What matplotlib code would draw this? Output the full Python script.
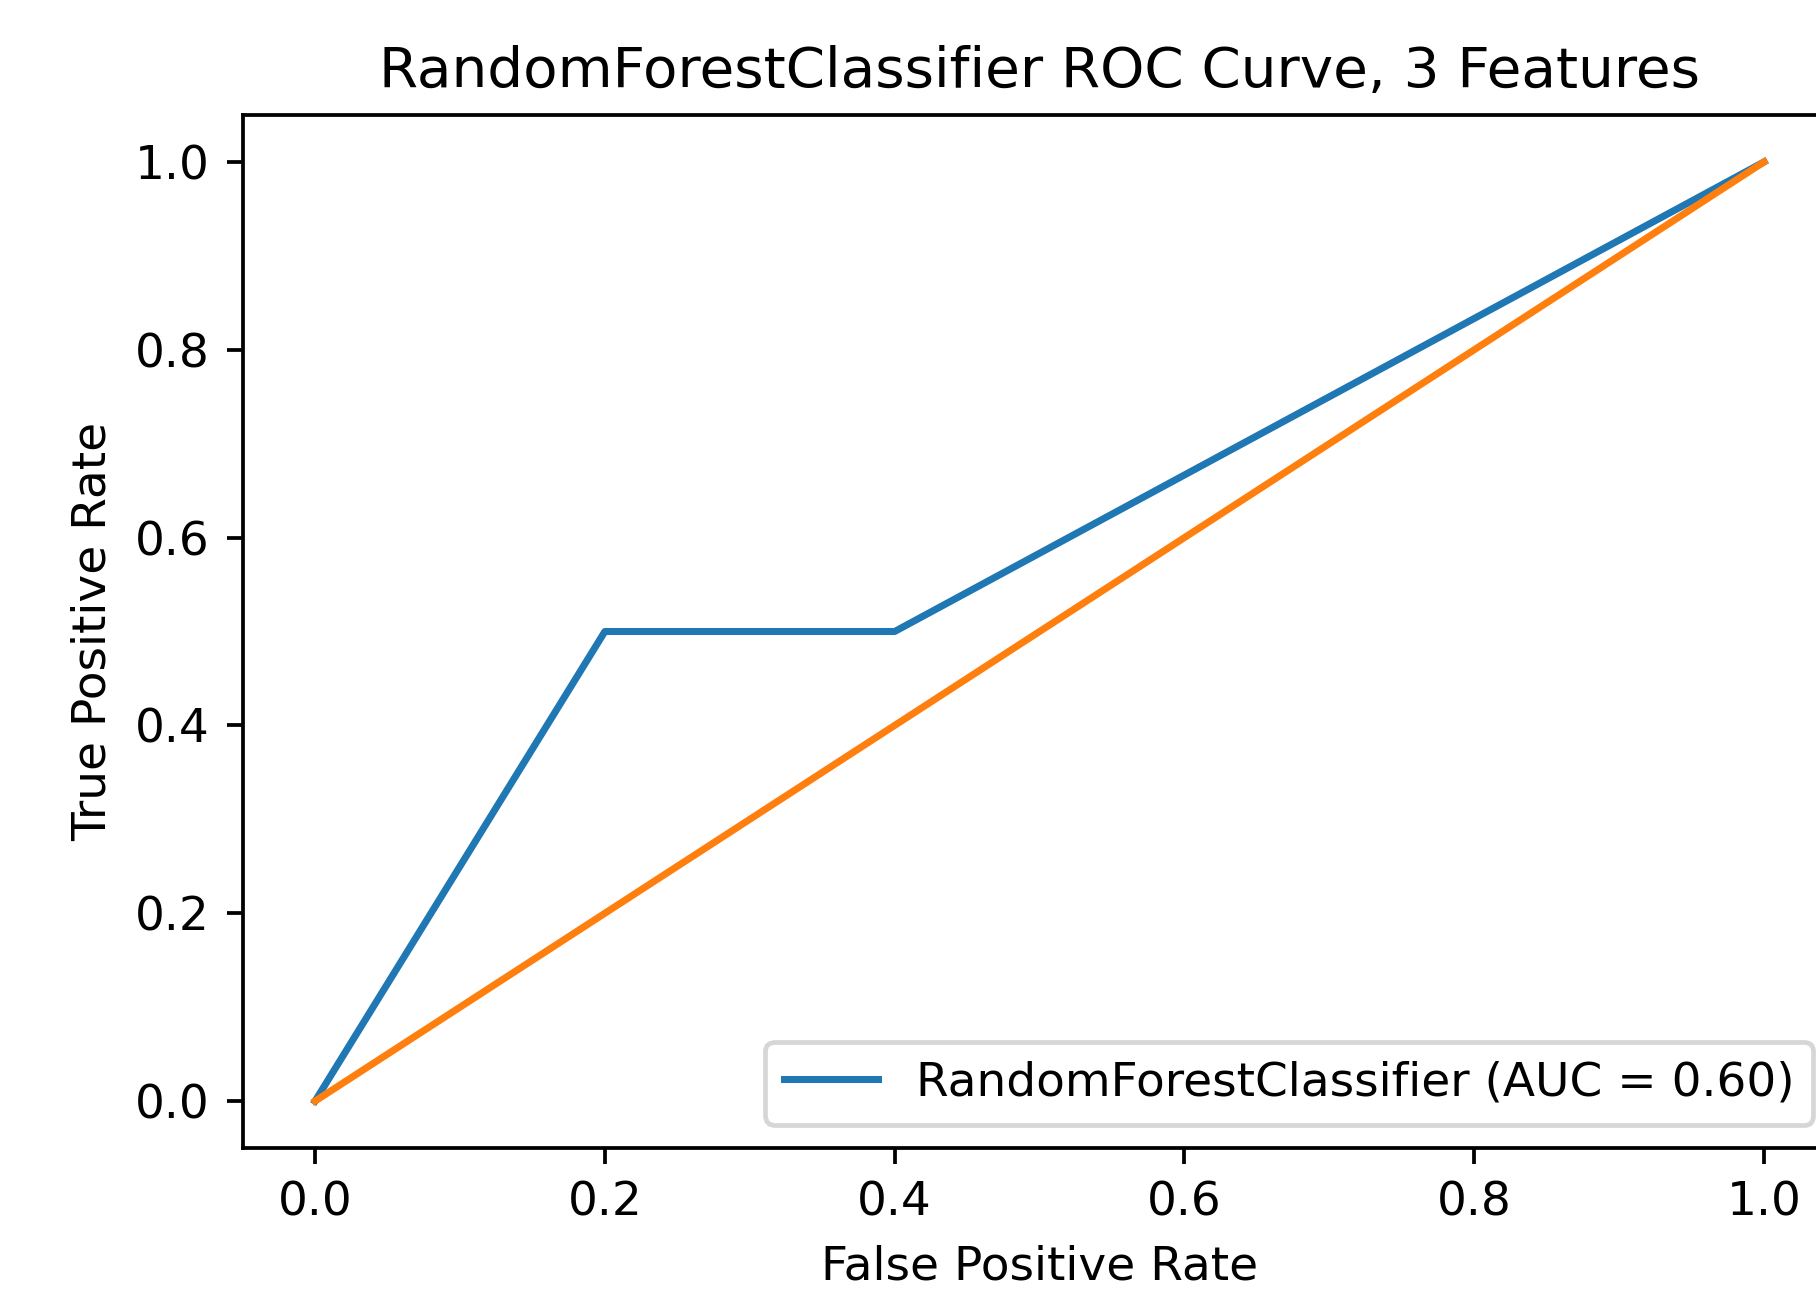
import numpy as np
import matplotlib
matplotlib.use("Agg")
import matplotlib.pyplot as plt

# ROC points
fpr = [0.0, 0.2, 0.4, 1.0]
tpr = [0.0, 0.5, 0.5, 1.0]
chance = [0.0, 1.0]
model_name = "RandomForestClassifier"
auc = np.trapezoid(tpr, fpr)

# original was a small notebook image blown up, so scale everything via dpi
dpi = 338
fig = plt.figure(figsize=(1816 / dpi, 1293 / dpi), dpi=dpi)
ax = fig.add_axes([0.1336, 0.1121, 0.8777, 0.799])

ax.plot(fpr, tpr, label=f"{model_name} (AUC = {auc:.2f})")
ax.plot(chance, chance)

ax.set_xlabel("False Positive Rate")
ax.set_ylabel("True Positive Rate")
ax.set_title(f"{model_name} ROC Curve, 3 Features")
ax.legend(loc="lower right")

fig.savefig("out.png", dpi=dpi)
